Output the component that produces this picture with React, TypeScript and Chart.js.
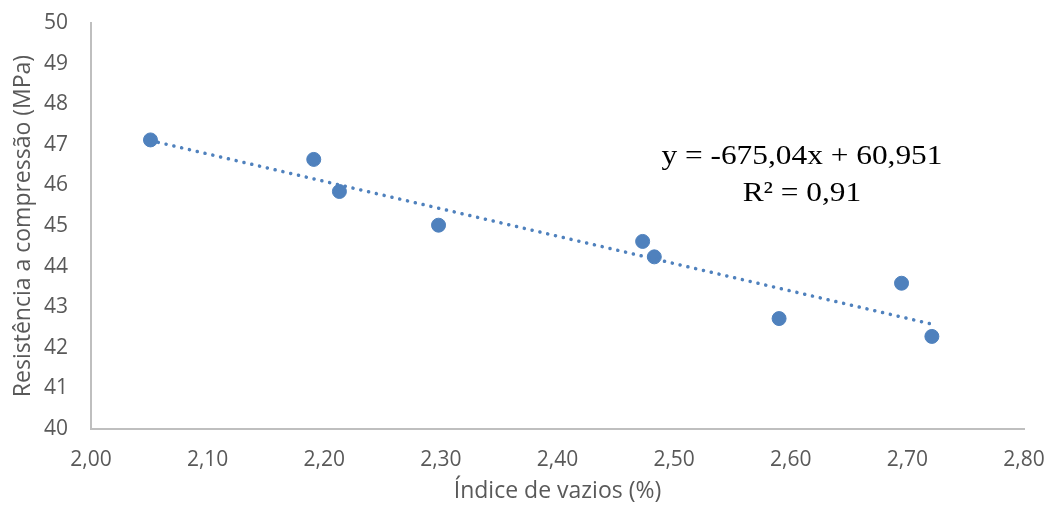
import React, { useEffect, useRef } from "react";
import { Chart, registerables } from "chart.js";

Chart.register(...registerables);

// Void index (%) of each specimen and its compressive strength (MPa)
const voidIndex = [2.051, 2.191, 2.213, 2.298, 2.473, 2.483, 2.59, 2.695, 2.721];
const strength = [47.12, 46.64, 45.85, 45.02, 44.62, 44.24, 42.72, 43.59, 42.28];

// Linear trend fitted on the void ratio as a fraction (x / 100)
const TREND_SLOPE = -675.04;
const TREND_INTERCEPT = 60.951;
const R_SQUARED = 0.91;

const X_MIN = 2.0;
const X_MAX = 2.8;
const X_STEP = 0.1;
const Y_MIN = 40;
const Y_MAX = 50;
const Y_STEP = 1;

const X_TITLE = "Índice de vazios (%)";
const Y_TITLE = "Resistência a compressão (MPa)";

const POINT_COLOR = "#4F81BD";
const AXIS_COLOR = "#BFBFBF";
const TEXT_COLOR = "#595959";
const SANS = "'Open Sans', 'Noto Sans', sans-serif";

const fmt = (v: number, digits: number) => v.toFixed(digits).replace(".", ",");

const trendAt = (x: number) => TREND_SLOPE * (x / 100) + TREND_INTERCEPT;

const equationLines = [
  `y = ${fmt(TREND_SLOPE, 2)}x + ${fmt(TREND_INTERCEPT, 3)}`,
  `R² = ${fmt(R_SQUARED, 2)}`,
];

// Writes the regression equation in a serif face, widened slightly
const equationPlugin = {
  id: "equationLabel",
  afterDatasetsDraw(chart: Chart) {
    const { ctx, chartArea } = chart;
    const cx = chartArea.left + chartArea.width * 0.762;
    const baselines = [chartArea.top + 141, chartArea.top + 178];
    ctx.save();
    ctx.fillStyle = "#000000";
    ctx.font = "28px 'Liberation Serif', 'Times New Roman', serif";
    ctx.textAlign = "center";
    ctx.textBaseline = "alphabetic";
    equationLines.forEach((line, i) => {
      ctx.save();
      ctx.translate(cx, baselines[i]);
      ctx.scale(1.12, 1);
      ctx.fillText(line, 0, 0);
      ctx.restore();
    });
    ctx.restore();
  },
};

export default function App() {
  const canvasRef = useRef<HTMLCanvasElement | null>(null);

  useEffect(() => {
    if (!canvasRef.current) return;
    const xLo = Math.min(...voidIndex);
    const xHi = Math.max(...voidIndex);

    const chart = new Chart(canvasRef.current, {
      type: "scatter",
      data: {
        datasets: [
          {
            type: "line",
            label: "Tendência",
            data: [
              { x: xLo, y: trendAt(xLo) },
              { x: xHi, y: trendAt(xHi) },
            ],
            borderColor: POINT_COLOR,
            borderWidth: 3.5,
            borderDash: [0.1, 7.9],
            borderCapStyle: "round",
            pointRadius: 0,
            fill: false,
            tension: 0,
            order: 0,
          },
          {
            label: "Resistência",
            data: voidIndex.map((x, i) => ({ x, y: strength[i] })),
            backgroundColor: POINT_COLOR,
            borderColor: POINT_COLOR,
            borderWidth: 1,
            pointRadius: 7,
            pointHoverRadius: 7,
            order: 1,
          },
        ],
      },
      options: {
        responsive: false,
        animation: false,
        devicePixelRatio: 1,
        layout: { padding: { left: 0, right: 20, top: 15, bottom: 0 } },
        plugins: {
          legend: { display: false },
          tooltip: { enabled: false },
        },
        scales: {
          x: {
            type: "linear",
            min: X_MIN,
            max: X_MAX,
            grid: { display: false, drawTicks: false },
            border: { display: true, color: AXIS_COLOR, width: 2 },
            ticks: {
              stepSize: X_STEP,
              padding: 18,
              color: TEXT_COLOR,
              font: { family: SANS, size: 21 },
              maxRotation: 0,
              callback: (v: any) => fmt(Number(v), 2),
            },
            title: {
              display: true,
              text: X_TITLE,
              color: TEXT_COLOR,
              font: { family: SANS, size: 23 },
              padding: { top: 0, bottom: 0 },
            },
            afterFit: (s: any) => {
              s.height = 76;
              s.paddingLeft = 0;
              s.paddingRight = 0;
            },
          },
          y: {
            type: "linear",
            min: Y_MIN,
            max: Y_MAX,
            grid: { display: false, drawTicks: false },
            border: { display: true, color: AXIS_COLOR, width: 2 },
            ticks: {
              stepSize: Y_STEP,
              padding: 23,
              color: TEXT_COLOR,
              font: { family: SANS, size: 21 },
            },
            title: {
              display: true,
              text: Y_TITLE,
              color: TEXT_COLOR,
              font: { family: SANS, size: 23 },
              padding: { top: 2, bottom: 0 },
            },
            afterFit: (s: any) => {
              s.width = 83;
              s.paddingTop = 0;
              s.paddingBottom = 0;
            },
          },
        },
      },
      plugins: [equationPlugin],
    });

    return () => chart.destroy();
  }, []);

  return <canvas ref={canvasRef} width={1036} height={497} />;
}
